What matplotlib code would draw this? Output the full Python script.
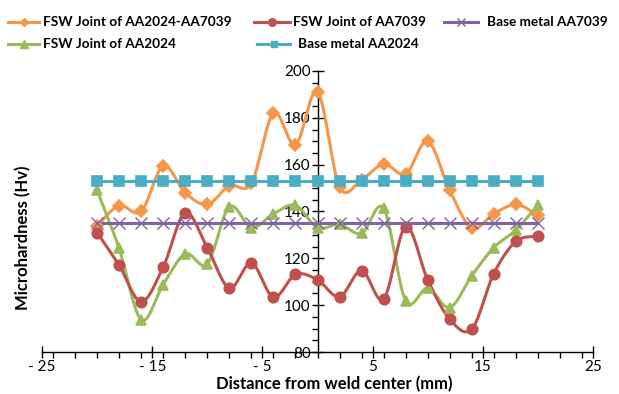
import numpy as np
import matplotlib
matplotlib.use('Agg')
import matplotlib.pyplot as plt
from matplotlib.lines import Line2D
from matplotlib.ticker import MultipleLocator, FuncFormatter

plt.rcParams['font.family'] = ['Lato', 'DejaVu Sans']

# distance from weld center (mm)
distance = [-20, -18, -16, -14, -12, -10, -8, -6, -4, -2, 0,
            2, 4, 6, 8, 10, 12, 14, 16, 18, 20]

fsw_2024_7039 = [134, 142.5, 140, 159.5, 148, 143, 151, 152, 182, 168.5, 191.2,
                 150.5, 153.5, 160.3, 156, 170, 149, 133, 139, 143, 138.5]
fsw_7039 = [131, 117, 101.5, 116.3, 139.4, 124.5, 107.3, 118, 103.4, 113.1, 110.8,
            103.6, 114.8, 102.6, 133.5, 110.8, 94, 89.8, 113.5, 127.2, 129.6]
fsw_2024 = [149, 124.2, 93.8, 108.8, 121.9, 117.6, 142, 133.1, 139, 142.6, 133.1,
            134.5, 130.7, 141.3, 101.9, 107.2, 99, 112.6, 124.6, 132.1, 142.8]
base_7039 = [135] * len(distance)
base_2024 = [153.2] * len(distance)


def smooth(x, y, n=20, tension=0.5):
    # Catmull-Rom style smoothing, similar to spreadsheet "smoothed line"
    x = np.asarray(x, float)
    y = np.asarray(y, float)
    px = np.concatenate([[2 * x[0] - x[1]], x, [2 * x[-1] - x[-2]]])
    py = np.concatenate([[2 * y[0] - y[1]], y, [2 * y[-1] - y[-2]]])
    xs, ys = [], []
    t = np.linspace(0, 1, n, endpoint=False)
    for i in range(1, len(px) - 2):
        p0, p1, p2, p3 = [np.array([px[j], py[j]]) for j in range(i - 1, i + 3)]
        m1 = tension * (p2 - p0)
        m2 = tension * (p3 - p1)
        h00 = 2 * t**3 - 3 * t**2 + 1
        h10 = t**3 - 2 * t**2 + t
        h01 = -2 * t**3 + 3 * t**2
        h11 = t**3 - t**2
        pts = (np.outer(h00, p1) + np.outer(h10, m1) +
               np.outer(h01, p2) + np.outer(h11, m2))
        xs.extend(pts[:, 0])
        ys.extend(pts[:, 1])
    xs.append(x[-1])
    ys.append(y[-1])
    return np.array(xs), np.array(ys)


fig = plt.figure(figsize=(6.19, 3.94), dpi=100)
W, H = 619, 394
ax = fig.add_axes([42 / W, 1 - 352 / H, (593 - 42) / W, (352 - 71) / H])

# name, values, colour, marker, size, legend (handle x0, x1, text x, row y) in px
series = [
    ('FSW Joint of AA2024-AA7039', fsw_2024_7039, '#F79646', 'D', 6, (8, 39, 43, 22)),
    ('FSW Joint of AA2024', fsw_2024, '#9BBB59', '^', 7.5, (8, 39, 43, 44)),
    ('FSW Joint of AA7039', fsw_7039, '#C0504D', 'o', 7.5, (254, 290, 293, 22)),
    ('Base metal AA2024', base_2024, '#4BACC6', 's', 7, (257, 290, 298, 44)),
    ('Base metal AA7039', base_7039, '#8064A2', 'x', 8, (444, 478, 487, 22)),
]

draw_order = [3, 4, 2, 1, 0]
for k in draw_order:
    name, vals, col, mk, ms, _ = series[k]
    sx, sy = smooth(distance, vals)
    ax.plot(sx, sy, color=col, lw=2.2, zorder=2 + k * 0.1, solid_capstyle='round')
    ax.plot(distance, vals, ls='none', marker=mk, color=col, ms=ms,
            mec=col, mew=1.2 if mk != 'x' else 1.0, zorder=3 + k * 0.1)

# legend drawn by hand to follow the reference layout
for name, vals, col, mk, ms, (x0, x1, tx, ry) in series:
    fy = 1 - ry / H
    fig.add_artist(Line2D([x0 / W, x1 / W], [fy, fy], transform=fig.transFigure,
                          color=col, lw=2.2))
    fig.add_artist(Line2D([(x0 + x1) / 2 / W], [fy], transform=fig.transFigure,
                          color=col, marker=mk, ms=ms - 2, mec=col, ls='none'))
    fig.text(tx / W, fy, name, ha='left', va='center', fontsize=9.8,
             fontweight='bold')

ax.set_xlim(-25, 25)
ax.set_ylim(80, 200)
ax.spines['left'].set_position(('data', 0))
ax.spines['top'].set_visible(False)
ax.spines['right'].set_visible(False)
for s in ['left', 'bottom']:
    ax.spines[s].set_linewidth(1.0)

ax.set_xticks([-25, -15, -5, 5, 15, 25])
ax.xaxis.set_minor_locator(MultipleLocator(2))
ax.yaxis.set_major_locator(MultipleLocator(20))
ax.yaxis.set_minor_locator(MultipleLocator(5))
ax.xaxis.set_major_formatter(FuncFormatter(
    lambda v, p: ('- %d' % abs(v)) if v < 0 else '%d' % v))
ax.tick_params(axis='both', which='major', direction='inout', length=8,
               width=1, labelsize=11, colors='black')
ax.tick_params(axis='both', which='minor', direction='out', length=4, width=1)
ax.tick_params(axis='x', which='major', pad=2)
ax.tick_params(axis='y', which='major', pad=1)

fig.text(334 / W, 1 - 384 / H, 'Distance from weld center (mm)',
         ha='center', va='center', fontsize=12, fontweight='bold')
fig.text(23 / W, 1 - 238 / H, 'Microhardness (Hv)', rotation=90,
         ha='center', va='center', fontsize=12, fontweight='bold')

fig.savefig('out.png', dpi=100)
